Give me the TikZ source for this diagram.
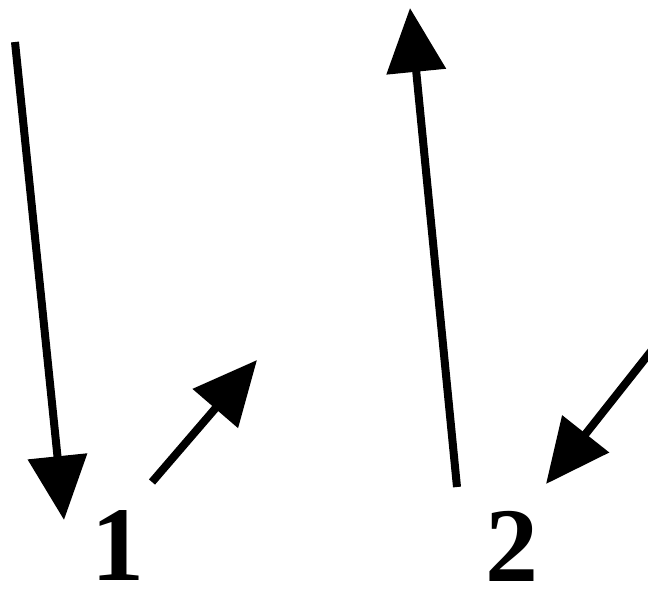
\documentclass[tikz,border=0pt]{standalone}
\usepackage{fontspec}
\setmainfont{Liberation Serif}
\usetikzlibrary{arrows.meta}
\begin{document}
\begin{tikzpicture}[x=1pt,y=-1pt,
  arr/.style={line width=8pt,-{Triangle[width=58pt,length=64pt]}},
  lbl/.style={font=\fontsize{106}{106}\selectfont\bfseries,inner sep=0pt}]
\useasboundingbox (0,0) rectangle (648,590);
\coordinate (a1s) at (15,42);
\coordinate (a1e) at (64,520);
\coordinate (b1s) at (152,482);
\coordinate (b1e) at (257,360);
\coordinate (a2s) at (457,487);
\coordinate (a2e) at (410,8);
\coordinate (b2s) at (652,350);
\coordinate (b2e) at (546,484);
\draw[arr] (a1s) -- (a1e);
\draw[arr] (b1s) -- (b1e);
\draw[arr] (a2s) -- (a2e);
\draw[arr] (b2s) -- (b2e);
\node[lbl,anchor=center] (l1) at (118,546) {1};
\node[lbl,anchor=center] (l2) at (512,546) {2};
\end{tikzpicture}
\end{document}
